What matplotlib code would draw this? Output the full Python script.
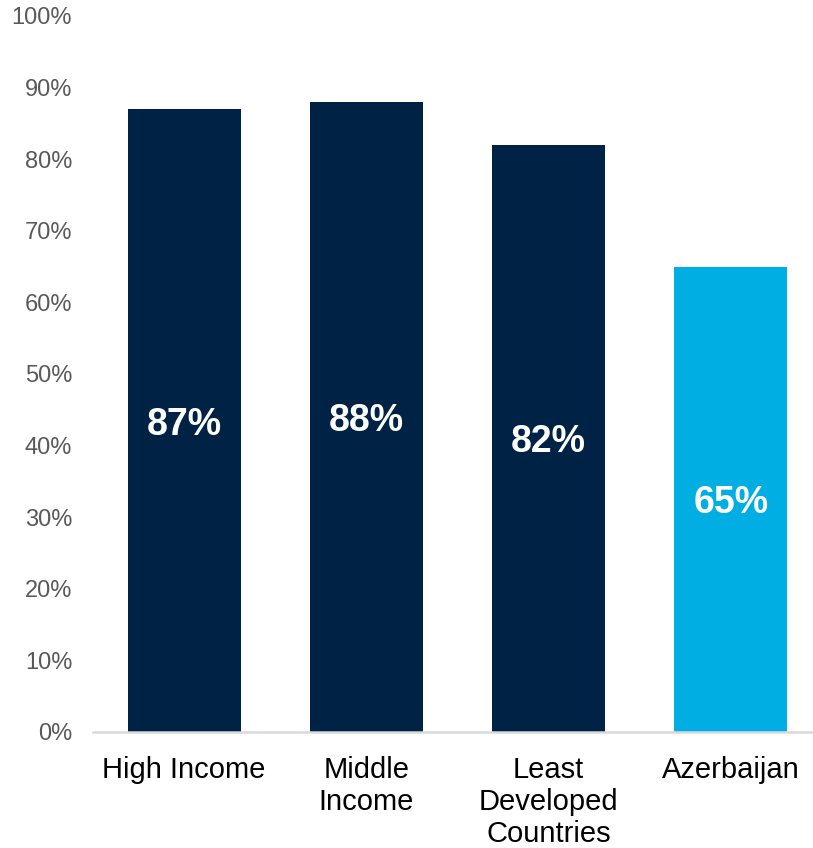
import matplotlib

matplotlib.use("Agg")
import matplotlib.pyplot as plt
from matplotlib.ticker import PercentFormatter

plt.rcParams["font.family"] = ["Liberation Sans", "DejaVu Sans"]

categories = ["High Income", "Middle\nIncome", "Least\nDeveloped\nCountries", "Azerbaijan"]
shares = [87, 88, 82, 65]
bar_colors = ["#002245", "#002245", "#002245", "#00AEE4"]

fig = plt.figure(figsize=(8.13, 8.48), dpi=100)
ax = fig.add_axes([93 / 813, 116 / 848, 729 / 813, 716 / 848])

xs = range(len(categories))
bars = ax.bar(xs, shares, width=0.62, color=bar_colors, zorder=2)

# value labels sit in the middle of each bar
for bar, val in zip(bars, shares):
    ax.text(
        bar.get_x() + bar.get_width() / 2,
        val / 2,
        f"{val}%",
        ha="center",
        va="center_baseline",
        color="white",
        fontsize=27,
        fontweight="bold",
    )

ax.set_xlim(-0.5, 3.5)
ax.set_ylim(0, 100)
ax.set_yticks(range(0, 101, 10))
ax.yaxis.set_major_formatter(PercentFormatter(decimals=0))
ax.set_xticks(list(xs))
ax.set_xticklabels(categories, fontsize=21, color="black", linespacing=1.2, va="top")

ax.tick_params(axis="y", length=0, pad=15, labelsize=17, labelcolor="#595959")
ax.tick_params(axis="x", length=0, pad=17)

for side in ["top", "right", "left"]:
    ax.spines[side].set_visible(False)
ax.spines["bottom"].set_color("#D9D9D9")
ax.spines["bottom"].set_linewidth(1.8)

fig.savefig("out.png", dpi=100)
